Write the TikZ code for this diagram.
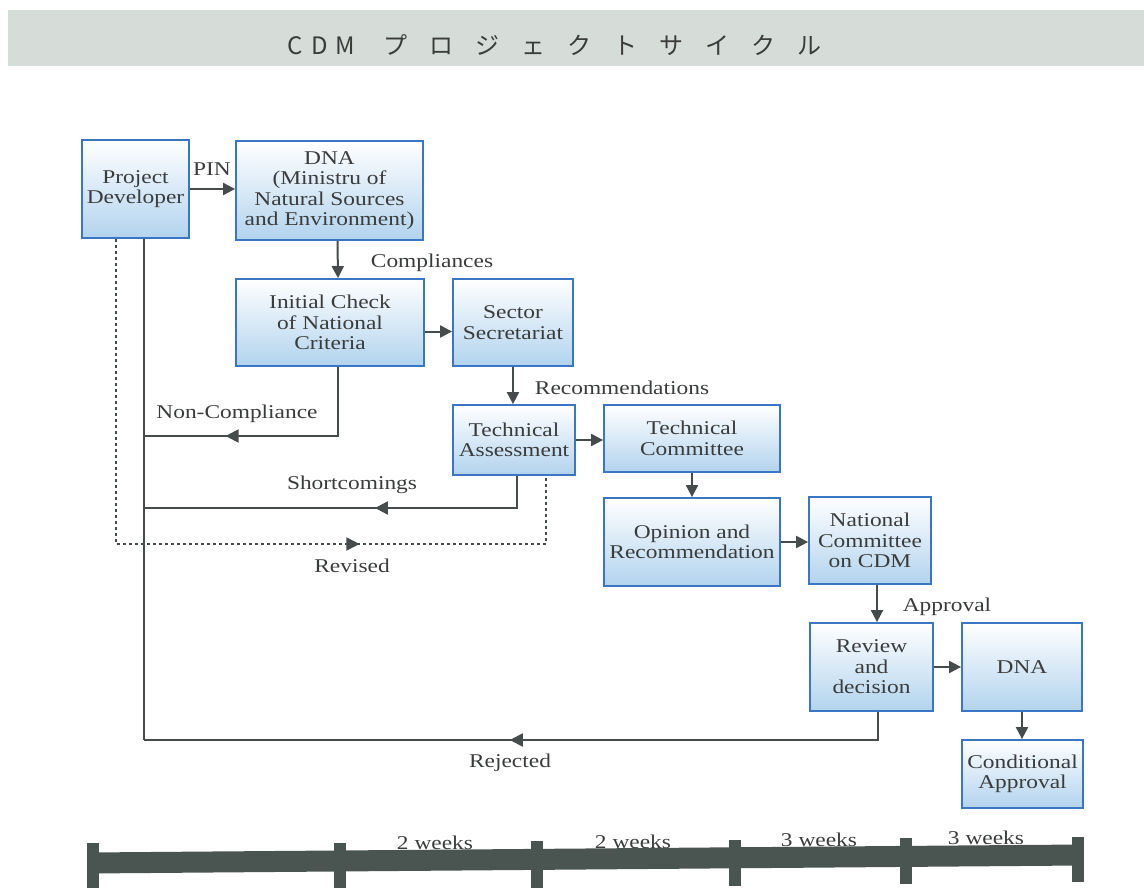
\documentclass[tikz,border=0pt]{standalone}
\usepackage{fontspec}
\setmainfont{Liberation Serif}[FakeStretch=1.2]
\newfontfamily\jpfont{Noto Sans CJK JP}
\usetikzlibrary{arrows.meta,decorations.markings}

\definecolor{bandgray}{RGB}{214,221,217}
\definecolor{boxline}{RGB}{58,118,196}
\definecolor{boxfoot}{RGB}{178,211,238}
\definecolor{boxmid}{RGB}{236,244,250}
\definecolor{inkgray}{RGB}{58,60,60}
\definecolor{linegray}{RGB}{70,76,76}
\definecolor{bargray}{RGB}{74,84,80}

\tikzset{
  stepbox/.style={draw=boxline, line width=1.8, rectangle, align=center,
    top color=white, middle color=boxmid, bottom color=boxfoot,
    text=inkgray, inner sep=2, font=\fontsize{19.5}{20.5}\selectfont},
  lbl/.style={text=inkgray, inner sep=0, font=\fontsize{19.5}{20.5}\selectfont},
  conn/.style={draw=linegray, line width=2},
  arr/.style={conn, -{Triangle[length=12,width=12]}},
  midarr/.style={conn, postaction={decorate},
    decoration={markings, mark=at position #1 with {\arrow[linegray]{Triangle[length=13,width=13]}}}},
  dotline/.style={draw=linegray, line width=2, dash pattern=on 3 off 3},
  tick/.style={fill=bargray, draw=none},
}

\newcommand{\jc}[2]{\makebox[#1pt][l]{#2}}

\begin{document}
\begin{tikzpicture}[x=1pt, y=-1pt]
\useasboundingbox (0,0) rectangle (1144,888);

% title band
\fill[bandgray] (8,10) rectangle (1144,66);
\node[anchor=west, inner sep=0, text=inkgray, font=\jpfont\fontsize{24}{24}\selectfont] (title) at (287,45)
  {\jc{24}{C}\jc{24}{D}\jc{48}{M}\jc{46}{プ}\jc{46}{ロ}\jc{46}{ジ}\jc{46}{ェ}\jc{46}{ク}\jc{46}{ト}\jc{46}{サ}\jc{46}{イ}\jc{46}{ク}\jc{30}{ル}};

% process boxes
\node[stepbox, minimum width=107, minimum height=98] (pd) at (135.5,189) {Project\\Developer};
\node[stepbox, minimum width=187, minimum height=99] (dna) at (329.5,190.5) {DNA\\(Ministru of\\Natural Sources\\and Environment)};
\node[stepbox, minimum width=188, minimum height=87] (ic) at (330,322.5) {Initial Check\\of National\\Criteria};
\node[stepbox, minimum width=120, minimum height=87] (ss) at (513,322.5) {Sector\\Secretariat};
\node[stepbox, minimum width=122, minimum height=70] (ta) at (514,440) {Technical\\Assessment};
\node[stepbox, minimum width=176, minimum height=67] (tc) at (692,438.5) {Technical\\Committee};
\node[stepbox, minimum width=176, minimum height=88] (op) at (692,542) {Opinion and\\Recommendation};
\node[stepbox, minimum width=122, minimum height=87] (nc) at (870,540.5) {National\\Committee\\on CDM};
\node[stepbox, minimum width=123, minimum height=88] (rd) at (871.5,667) {Review\\and\\decision};
\node[stepbox, minimum width=120, minimum height=88] (dnb) at (1022,667) {DNA};
\node[stepbox, minimum width=121, minimum height=68] (ca) at (1022.5,774) {Conditional\\Approval};

% forward flow
\draw[arr] (pd.east) -- (pd.east -| dna.west);
\draw[arr] ([xshift=8]dna.south) -- ([xshift=8]ic.north);
\draw[arr] ([yshift=-9]ic.east) -- ([yshift=-9]ic.east -| ss.west);
\draw[arr] (ss.south) -- (ss.south |- ta.north);
\draw[arr] (ta.east) -- (ta.east -| tc.west);
\draw[arr] (tc.south) -- (op.north);
\draw[arr] (op.east) -- (op.east -| nc.west);
\draw[arr] ([xshift=7]nc.south) -- ([xshift=7]nc.south |- rd.north);
\draw[arr] (rd.east) -- (rd.east -| dnb.west);
\draw[arr] (dnb.south) -- (dnb.south |- ca.north);

% return paths
\coordinate (ncj) at (144,436);
\coordinate (scj) at (144,508);
\coordinate (rjj) at (144,740);
\coordinate (rvl) at (116,544);
\draw[conn] ([xshift=8.5]pd.south) -- (rjj);
\draw[midarr=0.69] ([xshift=8]ic.south) |- (ncj);
\draw[midarr=0.43] ([xshift=3]ta.south) |- (scj);
\draw[midarr=0.52] ([xshift=6.5]rd.south) |- (rjj);
\draw[dotline, postaction={decorate},
  decoration={markings, mark=at position 0.683 with {\arrow[linegray]{Triangle[length=13,width=13]}}}]
  ([xshift=-19.5]pd.south) |- (rvl) -| ([xshift=32]ta.south);

% connector labels
\node[lbl] (lpin) at (212,169) {PIN};
\node[lbl] (lcomp) at (432,263) {Compliances};
\node[lbl] (lrec) at (622,388) {Recommendations};
\node[lbl] (lnon) at (237,414) {Non-Compliance};
\node[lbl] (lshort) at (352,485) {Shortcomings};
\node[lbl] (lrev) at (352,566) {Revised};
\node[lbl] (lappr) at (947,607) {Approval};
\node[lbl] (lrej) at (510,763) {Rejected};

% timeline
\draw[bargray, line width=21] (88,863) -- (1082,855);
\fill[tick] (87,843) rectangle (99,888);
\fill[tick] (334,843) rectangle (346,888);
\fill[tick] (531,841) rectangle (543,888);
\fill[tick] (729,840) rectangle (741,886);
\fill[tick] (900,838) rectangle (912,884);
\fill[tick] (1072,837) rectangle (1084,882);
\node[lbl] (w1) at (435,843) {2 weeks};
\node[lbl] (w2) at (633,842) {2 weeks};
\node[lbl] (w3) at (819,840) {3 weeks};
\node[lbl] (w4) at (986,838) {3 weeks};
\end{tikzpicture}
\end{document}
